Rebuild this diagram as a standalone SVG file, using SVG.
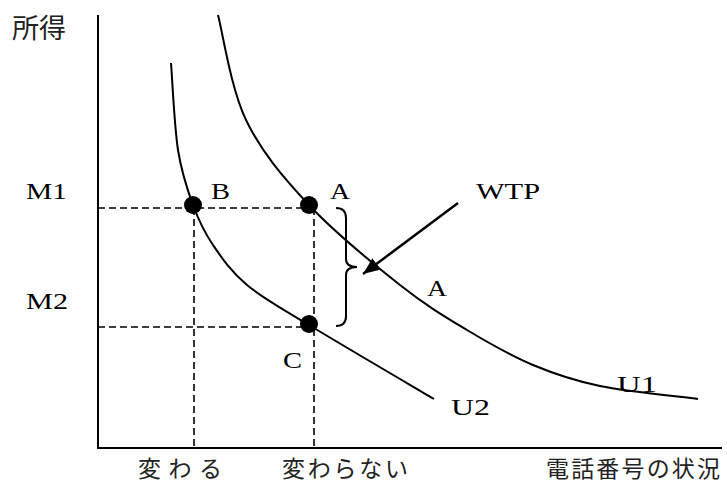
<svg xmlns="http://www.w3.org/2000/svg" width="727" height="488" viewBox="0 0 727 488">
<style>
.axis{stroke:#000;stroke-width:2;fill:none}
.curve{stroke:#000;stroke-width:2;fill:none}
.dash{stroke:#000;stroke-width:1.6;stroke-dasharray:7 4;fill:none}
.dot{fill:#000}
.lat{font-family:"Liberation Serif","Times New Roman",serif;font-size:24px;fill:#000}
.cjk{font-family:"Noto Sans CJK JP",sans-serif;font-size:23px;fill:#222}
</style>
<defs>
<marker id="ah" markerUnits="userSpaceOnUse" markerWidth="20" markerHeight="16" refX="17" refY="7" orient="auto">
<path d="M0,0 L17,7 L0,14 Z" fill="#000"/>
</marker>
</defs>
<rect width="727" height="488" fill="#fff"/>
<g id="axes">
<line class="axis" x1="98" y1="15" x2="98" y2="448"/>
<line class="axis" x1="97" y1="448" x2="722" y2="448"/>
<text class="cjk" x="12" y="38" style="font-size:27px">所得</text>
<text class="cjk" x="138" y="477" textLength="84" lengthAdjust="spacing">変 わ る</text>
<text class="cjk" x="282" y="477" textLength="126" lengthAdjust="spacing">変わらない</text>
<text class="cjk" x="546" y="477" textLength="174" lengthAdjust="spacing">電話番号の状況</text>
<text class="lat" x="26" y="199" textLength="41" lengthAdjust="spacingAndGlyphs">M1</text>
<text class="lat" x="26" y="309" textLength="42" lengthAdjust="spacingAndGlyphs">M2</text>
</g>
<g id="guides">
<line class="dash" x1="98" y1="208" x2="310" y2="208"/>
<line class="dash" x1="98" y1="327" x2="310" y2="327"/>
<line class="dash" x1="194" y1="208" x2="194" y2="448"/>
<line class="dash" x1="314" y1="208" x2="314" y2="448"/>
</g>
<g id="U1">
<path class="curve" d="M218,15 C222.7,32.5 230.8,88.3 246,120 C261.2,151.7 283.3,177.5 309,205 C334.7,232.5 373.7,264.2 400,285 C426.3,305.8 444.8,316.7 467,330 C489.2,343.3 510.8,355.7 533,365 C555.2,374.3 572.5,380.3 600,386 C627.5,391.7 681.7,396.8 698,399"/>
<text class="lat" x="617" y="392" textLength="40" lengthAdjust="spacingAndGlyphs">U1</text>
</g>
<g id="U2">
<path class="curve" d="M171,63 C172.2,77.5 174.3,126.3 178,150 C181.7,173.7 187.2,189.2 193,205 C198.8,220.8 204,231.7 213,245 C222,258.3 231,271.7 247,285 C263,298.3 277.8,306 309,325 C340.2,344 413.2,386.7 434,399"/>
<text class="lat" x="451" y="415" textLength="39" lengthAdjust="spacingAndGlyphs">U2</text>
</g>
<g id="pointA">
<circle class="dot" cx="309" cy="205" r="9"/>
<text class="lat" x="330" y="199" textLength="20" lengthAdjust="spacingAndGlyphs">A</text>
</g>
<g id="pointB">
<circle class="dot" cx="193" cy="205" r="9"/>
<text class="lat" x="211" y="199" textLength="19" lengthAdjust="spacingAndGlyphs">B</text>
</g>
<g id="pointC">
<circle class="dot" cx="309" cy="324" r="9"/>
<text class="lat" x="283" y="368" textLength="19" lengthAdjust="spacingAndGlyphs">C</text>
</g>
<g id="labelA2">
<text class="lat" x="427" y="296" textLength="20" lengthAdjust="spacingAndGlyphs">A</text>
</g>
<g id="WTP">
<path class="curve" d="M336,208 Q346,208 346,218 L346,259 Q346,267 357,267 Q346,267 346,275 L346,316 Q346,326 336,326"/>
<text class="lat" x="476" y="199" textLength="64" lengthAdjust="spacingAndGlyphs">WTP</text>
</g>
<g id="connectors">
<line x1="458" y1="203" x2="363" y2="274" stroke="#000" stroke-width="2.5" marker-end="url(#ah)"/>
</g>
</svg>
